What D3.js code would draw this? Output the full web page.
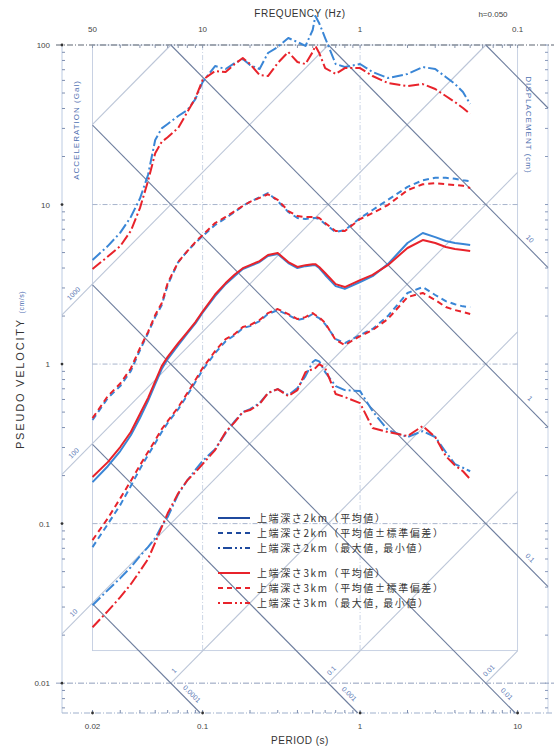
<!DOCTYPE html>
<html>
<head>
<meta charset="utf-8">
<script src="https://d3js.org/d3.v7.min.js"></script>
<style>
  body { margin: 0; background: #fff; }
  svg { display: block; }
  text { font-family: "Liberation Sans", Arial, sans-serif; }
  .cjk { font-family: "Noto Sans CJK JP", "Noto Sans CJK SC", sans-serif; }
</style>
</head>
<body>
<div id="wrapper"></div>
<script>
// periods (s) shared by all spectra
const periods = [0.02, 0.025, 0.03, 0.035, 0.04, 0.045, 0.05, 0.055, 0.06, 0.07,
  0.08, 0.09, 0.1, 0.12, 0.14, 0.16, 0.18, 0.2, 0.23, 0.26,
  0.3, 0.35, 0.4, 0.45, 0.5, 0.52, 0.55, 0.6, 0.7, 0.8,
  1.0, 1.2, 1.5, 2.0, 2.5, 3.0, 3.5, 4.0, 4.5, 5.0]

// pseudo velocity (cm/s), top depth 2km (blue)
const max2km = [4.49, 5.49, 6.67, 8.35, 10.9, 15.3, 25.4, 30.0, 32.0, 35.9,
  39.1, 45.8, 58.6, 73.8, 70.7, 77.1, 81.7, 74.9, 70.7, 89.1,
  97.2, 110.6, 104.4, 98.6, 124.2, 152, 137, 110.6, 76.0, 72.8,
  76.0, 67.7, 62.1, 65.8, 72.8, 70.7, 63.0, 57.0, 50.7, 42.7]
const upper2km = [0.446, 0.612, 0.728, 0.904, 1.22, 1.56, 1.97, 2.34, 3.13, 4.36,
  5.11, 5.74, 6.35, 7.44, 8.23, 8.98, 9.79, 10.4, 11.1, 11.8,
  10.5, 8.98, 8.23, 8.11, 8.23, 8.23, 8.11, 7.55, 6.72, 6.92,
  8.23, 9.24, 10.7, 12.9, 14.2, 14.7, 14.7, 14.5, 14.2, 14.0]
const mean2km = [0.182, 0.229, 0.285, 0.358, 0.459, 0.586, 0.749, 0.930, 1.075, 1.316,
  1.56, 1.80, 2.10, 2.67, 3.17, 3.56, 3.94, 4.11, 4.36, 4.76,
  4.90, 4.30, 4.00, 4.11, 4.17, 4.17, 4.00, 3.62, 3.08, 2.96,
  3.27, 3.56, 4.23, 5.74, 6.63, 6.25, 5.91, 5.74, 5.66, 5.58]
const lower2km = [0.0712, 0.0993, 0.131, 0.172, 0.220, 0.269, 0.319, 0.375, 0.427, 0.521,
  0.639, 0.771, 0.917, 1.17, 1.39, 1.52, 1.68, 1.73, 1.86, 2.06,
  2.18, 2.03, 1.89, 1.94, 2.06, 2.0, 1.94, 1.78, 1.434, 1.354,
  1.52, 1.66, 2.0, 2.79, 3.04, 2.71, 2.48, 2.37, 2.30, 2.27]
const min2km = [0.0308, 0.0383, 0.0455, 0.0533, 0.0626, 0.0712, 0.0811, 0.0965, 0.110, 0.153,
  0.187, 0.217, 0.247, 0.293, 0.369, 0.439, 0.5, 0.522, 0.569, 0.658,
  0.697, 0.639, 0.707, 0.841, 1.03, 1.06, 1.04, 0.891, 0.728, 0.687,
  0.677, 0.507, 0.386, 0.349, 0.380, 0.349, 0.281, 0.236, 0.224, 0.213]

// pseudo velocity (cm/s), top depth 3km (red)
const max3km = [3.94, 4.72, 5.49, 6.83, 9.5, 14.0, 21.0, 24.7, 26.4, 30.2,
  38.0, 46.5, 60.4, 68.7, 67.7, 76.0, 82.9, 76.0, 64.8, 63.9,
  77.1, 90.4, 78.2, 76.0, 90.4, 98.6, 89.1, 71.7, 65.8, 71.7,
  71.7, 63.9, 57.8, 55.3, 56.9, 53.0, 47.9, 43.9, 40.3, 36.9]
const upper3km = [0.458, 0.630, 0.755, 0.938, 1.26, 1.587, 2.03, 2.41, 3.22, 4.36,
  5.11, 5.82, 6.44, 7.66, 8.36, 9.10, 9.79, 10.4, 11.0, 11.6,
  10.7, 9.1, 8.47, 8.35, 8.35, 8.35, 8.23, 7.66, 6.82, 6.82,
  8.11, 8.84, 9.93, 12.3, 13.4, 13.6, 13.4, 13.25, 13.1, 12.7]
const mean3km = [0.196, 0.243, 0.302, 0.375, 0.486, 0.612, 0.779, 0.971, 1.11, 1.354,
  1.587, 1.834, 2.134, 2.73, 3.22, 3.64, 3.99, 4.17, 4.42, 4.83,
  4.97, 4.36, 4.06, 4.17, 4.23, 4.23, 4.06, 3.72, 3.17, 3.04,
  3.36, 3.62, 4.17, 5.34, 5.99, 5.74, 5.42, 5.27, 5.19, 5.11]
const lower3km = [0.0788, 0.108, 0.144, 0.185, 0.232, 0.281, 0.333, 0.391, 0.439, 0.537,
  0.658, 0.794, 0.944, 1.206, 1.434, 1.543, 1.706, 1.757, 1.888, 2.088,
  2.213, 2.058, 1.915, 1.97, 2.088, 2.03, 1.97, 1.808, 1.414, 1.316,
  1.498, 1.633, 1.915, 2.63, 2.79, 2.52, 2.277, 2.18, 2.12, 2.058]
const min3km = [0.0224, 0.0283, 0.0346, 0.0417, 0.0504, 0.0599, 0.076, 0.095, 0.116, 0.155,
  0.187, 0.210, 0.236, 0.289, 0.375, 0.433, 0.5, 0.515, 0.562, 0.658,
  0.697, 0.630, 0.687, 0.891, 0.930, 0.944, 1.0, 0.944, 0.649, 0.621,
  0.569, 0.398, 0.375, 0.354, 0.409, 0.349, 0.265, 0.232, 0.213, 0.190]

// axes
const periodTicks = [0.02, 0.1, 1, 10]
const periodTickLabels = ["0.02", "0.1", "1", "10"]
const freqTickLabels = ["50", "10", "1", "0.1"]
const velocityTicks = [100, 10, 1, 0.1, 0.01]
const velocityTickLabels = ["100", "10", "1", "0.1", "0.01"]
const accelValues = [0.01, 0.1, 1, 10, 100, 1000, 10000]
const dispValues = [0.0001, 0.001, 0.01, 0.1, 1, 10, 100]
const accelLeftLabels = [1000, 100, 10]
const accelBottomLabels = [1, 0.1, 0.01]
const dispRightLabels = [10, 1, 0.1]
const dispBottomLabels = [0.0001, 0.001, 0.01]

const legendLabels = [
  "上端深さ2km（平均値）",
  "上端深さ2km（平均値±標準偏差）",
  "上端深さ2km（最大値, 最小値）",
  "上端深さ3km（平均値）",
  "上端深さ3km（平均値±標準偏差）",
  "上端深さ3km（最大値, 最小値）",
]

const BLUE = "#3a86d6"
const RED = "#e8232b"
const DASH = "6,4"
const DASHDOT = "11,3,2,3"

const series = [
  { values: max2km, color: BLUE, dash: DASHDOT },
  { values: min2km, color: BLUE, dash: DASHDOT },
  { values: upper2km, color: BLUE, dash: DASH },
  { values: lower2km, color: BLUE, dash: DASH },
  { values: mean2km, color: BLUE, dash: null },
  { values: max3km, color: RED, dash: DASHDOT },
  { values: min3km, color: RED, dash: DASHDOT },
  { values: upper3km, color: RED, dash: DASH },
  { values: lower3km, color: RED, dash: DASH },
  { values: mean3km, color: RED, dash: null },
]

const legendStyles = [
  { color: "#1f4a9e", dash: null },
  { color: "#1f4a9e", dash: "5,4" },
  { color: "#1f4a9e", dash: "2,3,9,3,2,3" },
  { color: RED, dash: null },
  { color: RED, dash: "5,4" },
  { color: RED, dash: "2,3,9,3,2,3" },
]

const width = 554
const height = 750
const tMin = 0.0128, tMax = 15.6
const vMin = 0.0065, vMax = 100
const tInner = [0.02, 10]
const vInnerBottom = 0.016
const TWO_PI = 2 * Math.PI

const svg = d3.select("#wrapper")
  .append("svg")
  .attr("width", width)
  .attr("height", height)

const x = d3.scaleLog().domain([tMin, tMax]).range([62, 548])
const y = d3.scaleLog().domain([vMin, vMax]).range([713, 45])

const grid = svg.append("g")

// outer axis lines
grid.append("line")
  .attr("x1", x(tMin)).attr("x2", x(tMin))
  .attr("y1", y(vMax)).attr("y2", y(vMin))
  .attr("stroke", "#bccbe2").attr("stroke-width", 1)
grid.append("line")
  .attr("x1", x(tMax)).attr("x2", x(tMax))
  .attr("y1", y(vMax)).attr("y2", y(vMin))
  .attr("stroke", "#c9d4e6").attr("stroke-width", 1)
grid.append("line")
  .attr("x1", x(tMin)).attr("x2", x(tMax) + 4)
  .attr("y1", y(vMin)).attr("y2", y(vMin))
  .attr("stroke", "#9fb0cc").attr("stroke-width", 1).attr("stroke-dasharray", "6,2,1,2")

// inner box
grid.append("rect")
  .attr("x", x(tInner[0]))
  .attr("y", y(vMax))
  .attr("width", x(tInner[1]) - x(tInner[0]))
  .attr("height", y(vInnerBottom) - y(vMax))
  .attr("fill", "none")
  .attr("stroke", "#c2cde0").attr("stroke-width", 0.9)

// decade grid lines
grid.selectAll(".hgrid")
  .data([10, 1, 0.1])
  .join("line")
  .attr("x1", x(tInner[0])).attr("x2", x(tInner[1]))
  .attr("y1", d => y(d)).attr("y2", d => y(d))
  .attr("stroke", "#9eabc6").attr("stroke-width", 0.9).attr("stroke-dasharray", "5,2,1,2")
grid.selectAll(".vgrid")
  .data([0.1, 1])
  .join("line")
  .attr("x1", d => x(d)).attr("x2", d => x(d))
  .attr("y1", y(vMax)).attr("y2", y(vInnerBottom))
  .attr("stroke", "#c5d0e3").attr("stroke-width", 0.9).attr("stroke-dasharray", "5,2,1,2")
grid.append("line")
  .attr("x1", x(tMin) - 6).attr("x2", width)
  .attr("y1", y(0.01)).attr("y2", y(0.01))
  .attr("stroke", "#8f9dbb").attr("stroke-width", 1).attr("stroke-dasharray", "6,2,1,2")
grid.append("line")
  .attr("x1", x(tMin) - 6).attr("x2", width)
  .attr("y1", y(vMax)).attr("y2", y(vMax))
  .attr("stroke", "#5d6470").attr("stroke-width", 1.1).attr("stroke-dasharray", "6,2,1,2")

// acceleration lines (V = A T / 2pi)
const accelSeg = a => {
  const t0 = Math.max(a === 10000 ? tInner[0] : tMin, 0.01 * TWO_PI / a)
  const t1 = Math.min(tInner[1], vMax * TWO_PI / a)
  return [[t0, a * t0 / TWO_PI], [t1, a * t1 / TWO_PI]]
}
// displacement lines (V = 2pi D / T)
const dispSeg = dd => {
  const t0 = Math.max(tInner[0], TWO_PI * dd / vMax)
  const t1 = Math.min(tMax, TWO_PI * dd / vMin)
  return [[t0, TWO_PI * dd / t0], [t1, TWO_PI * dd / t1]]
}
const segLine = d3.line().x(d => x(d[0])).y(d => y(d[1]))

grid.selectAll(".accel")
  .data(accelValues)
  .join("path")
  .attr("d", d => segLine(accelSeg(d)))
  .attr("fill", "none")
  .attr("stroke", "#bcc6d8").attr("stroke-width", 1.1)

grid.selectAll(".disp")
  .data(dispValues)
  .join("path")
  .attr("d", d => segLine(dispSeg(d)))
  .attr("fill", "none")
  .attr("stroke", "#6e7e9e").attr("stroke-width", 1.1)

// minor ticks
const minorTicks = (lo, hi) => {
  const out = []
  for (let e = -3; e <= 2; e++) {
    for (let m = 1; m <= 9; m++) {
      const v = m * Math.pow(10, e)
      if (v >= lo && v <= hi) out.push(v)
    }
  }
  return out
}
const vTicks = minorTicks(vMin, vMax)
const tTicks = minorTicks(tMin, tMax)

grid.selectAll(".ltick")
  .data(vTicks)
  .join("line")
  .attr("x1", x(tMin)).attr("x2", d => x(tMin) + (velocityTicks.includes(d) ? 0 : 3))
  .attr("y1", d => y(d)).attr("y2", d => y(d))
  .attr("stroke", "#7f8fb0").attr("stroke-width", 1)
grid.selectAll(".ltickdot")
  .data(velocityTicks)
  .join("circle")
  .attr("cx", x(tMin)).attr("cy", d => y(d)).attr("r", 1.4)
  .attr("fill", "#333")
grid.selectAll(".rtick")
  .data(vTicks)
  .join("line")
  .attr("x1", x(tMax)).attr("x2", x(tMax) - 3)
  .attr("y1", d => y(d)).attr("y2", d => y(d))
  .attr("stroke", "#8a9abb").attr("stroke-width", 1)
grid.selectAll(".btick")
  .data(tTicks)
  .join("line")
  .attr("x1", d => x(d)).attr("x2", d => x(d))
  .attr("y1", y(vMin)).attr("y2", y(vMin) - 3)
  .attr("stroke", "#7f8fb0").attr("stroke-width", 1)
grid.selectAll(".ttick")
  .data(tTicks)
  .join("line")
  .attr("x1", d => x(d)).attr("x2", d => x(d))
  .attr("y1", y(vMax)).attr("y2", y(vMax) + 3)
  .attr("stroke", "#8a96ad").attr("stroke-width", 1)
grid.selectAll(".bdot")
  .data(periodTicks)
  .join("circle")
  .attr("cx", d => x(d)).attr("cy", y(vMin)).attr("r", 1.4)
  .attr("fill", "#333")

// diagonal scale labels
const labelFmt = v => String(v)
const diagLabels = svg.append("g")
  .attr("font-size", 7)
  .attr("fill", "#5a78b4")

accelLeftLabels.forEach(a => {
  const t = tMin * 1.25
  diagLabels.append("text")
    .attr("transform", `translate(${x(t) - 2},${y(a * t / TWO_PI) - 4}) rotate(-45)`)
    .attr("text-anchor", "middle")
    .text(labelFmt(a))
})
accelBottomLabels.forEach(a => {
  const t = 0.01 * TWO_PI / a * 1.12
  diagLabels.append("text")
    .attr("transform", `translate(${x(t) - 3},${y(a * t / TWO_PI) - 3}) rotate(-45)`)
    .attr("text-anchor", "middle")
    .text(labelFmt(a))
})
dispRightLabels.forEach(dd => {
  const t = tInner[1] * 1.12
  diagLabels.append("text")
    .attr("transform", `translate(${x(t) + 3},${y(TWO_PI * dd / t) - 4}) rotate(45)`)
    .attr("text-anchor", "middle")
    .text(labelFmt(dd))
})
dispBottomLabels.forEach(dd => {
  const t = TWO_PI * dd / 0.01 * 1.25
  diagLabels.append("text")
    .attr("transform", `translate(${x(t) + 4},${y(TWO_PI * dd / t) - 3}) rotate(45)`)
    .attr("text-anchor", "middle")
    .text(labelFmt(dd))
})

// spectra
const line = d3.line()
  .x((d, i) => x(periods[i]))
  .y(d => y(d))

svg.append("g")
  .selectAll("path")
  .data(series)
  .join("path")
  .attr("d", d => line(d.values))
  .attr("fill", "none")
  .attr("stroke", d => d.color)
  .attr("stroke-width", 2)
  .attr("stroke-dasharray", d => d.dash)
  .attr("stroke-linejoin", "round")

// tick labels
const labels = svg.append("g").attr("font-size", 8).attr("fill", "#444")
labels.selectAll(".ylab")
  .data(velocityTicks)
  .join("text")
  .attr("x", x(tMin) - 12)
  .attr("y", d => y(d) + 3)
  .attr("text-anchor", "end")
  .text((d, i) => velocityTickLabels[i])
labels.selectAll(".xlab")
  .data(periodTicks)
  .join("text")
  .attr("x", d => x(d))
  .attr("y", y(vMin) + 16)
  .attr("text-anchor", "middle")
  .text((d, i) => periodTickLabels[i])
labels.selectAll(".flab")
  .data(periodTicks)
  .join("text")
  .attr("x", d => x(d))
  .attr("y", y(vMax) - 13)
  .attr("text-anchor", "middle")
  .text((d, i) => freqTickLabels[i])

// titles
svg.append("text")
  .attr("x", 300).attr("y", 17)
  .attr("text-anchor", "middle")
  .attr("font-size", 10).attr("fill", "#333").attr("letter-spacing", 0.5)
  .text("FREQUENCY (Hz)")
svg.append("text")
  .attr("x", 493).attr("y", 17)
  .attr("text-anchor", "middle")
  .attr("font-size", 8).attr("fill", "#444")
  .text("h=0.050")
svg.append("text")
  .attr("x", 300).attr("y", 744)
  .attr("text-anchor", "middle")
  .attr("font-size", 10).attr("fill", "#333").attr("letter-spacing", 0.5)
  .text("PERIOD (s)")

const yTitle = svg.append("text")
  .attr("transform", "translate(24,370) rotate(-90)")
  .attr("text-anchor", "middle")
  .attr("font-size", 11).attr("fill", "#333").attr("letter-spacing", 1.8)
yTitle.append("tspan").text("PSEUDO VELOCITY ")
yTitle.append("tspan").attr("font-size", 7).attr("fill", "#4a6ab0").attr("letter-spacing", 0.5).text("(cm/s)")

svg.append("text")
  .attr("transform", "translate(79,130) rotate(-90)")
  .attr("text-anchor", "middle")
  .attr("font-size", 8).attr("fill", "#4f70b0").attr("letter-spacing", 1)
  .text("ACCELERATION (Gal)")
svg.append("text")
  .attr("transform", "translate(526,125) rotate(90)")
  .attr("text-anchor", "middle")
  .attr("font-size", 8).attr("fill", "#4f70b0").attr("letter-spacing", 1)
  .text("DISPLACEMENT (cm)")

// legend
const legendY = [518, 533, 548, 573, 588, 603]
const legend = svg.append("g")
legend.selectAll(".lg")
  .data(legendLabels)
  .join("g")
  .each(function (d, i) {
    const g = d3.select(this)
    g.append("line")
      .attr("x1", 218).attr("x2", 250)
      .attr("y1", legendY[i]).attr("y2", legendY[i])
      .attr("stroke", legendStyles[i].color)
      .attr("stroke-width", 2)
      .attr("stroke-dasharray", legendStyles[i].dash)
    g.append("text")
      .attr("class", "cjk")
      .attr("x", 257).attr("y", legendY[i] + 4)
      .attr("font-size", 10).attr("fill", "#333").attr("letter-spacing", 1.6)
      .text(d)
  })
</script>
</body>
</html>
